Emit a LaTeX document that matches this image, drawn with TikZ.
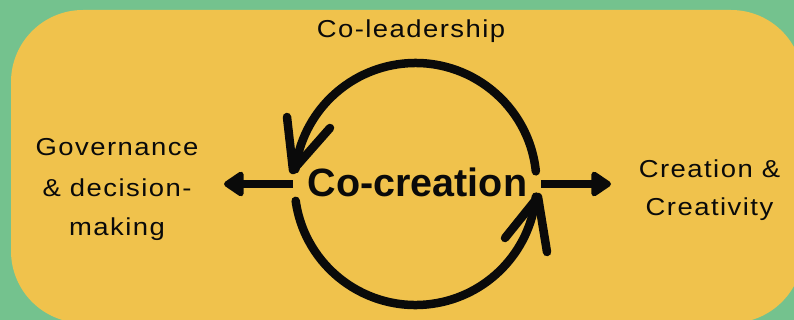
\documentclass[tikz,border=0pt]{standalone}
\usepackage{fontspec}
\setmainfont{Liberation Sans}
\newfontfamily\labelfont[LetterSpace=6,FakeStretch=1.12]{Liberation Sans}
\usetikzlibrary{arrows.meta}
\definecolor{bggreen}{HTML}{74C28E}
\definecolor{cardyellow}{HTML}{F0C24C}
\definecolor{ink}{HTML}{0A0A0A}
\begin{document}
\begin{tikzpicture}[x=1pt,y=-1pt,
  lbl/.style={inner sep=0pt, text=ink, font=\labelfont\fontsize{24.5}{40}\selectfont},
  ring/.style={draw=ink, line width=8.5pt, line cap=round, line join=round},
  bigarrow/.style={draw=ink, line width=8.5pt, -{Triangle[length=22pt,width=28pt,round]}}
]
\clip (0,0) rectangle (794,320);
\fill[bggreen] (0,0) rectangle (794,320);
\fill[cardyellow, rounded corners=72pt] (11,10) rectangle (803,323);

\coordinate (C) at (415.5,184);

% texts
\node[lbl, anchor=base] (lead) at (411,38) {Co-leadership};
\node[lbl, align=center, anchor=base] (gov) at (117,236) {Governance\\\& decision-\\making};
\node[lbl, align=center, anchor=base, font=\labelfont\fontsize{24.5}{38}\selectfont] (cre) at (709.5,215) {Creation \&\\Creativity};
\node[inner sep=0pt, text=ink, font=\fontsize{39.5}{39.5}\selectfont\bfseries, anchor=base] (cc) at (417.5,197) {Co-creation};

% cycle arcs
\draw[ring] (C) ++(-6:121) arc[start angle=-6, end angle=-173, radius=121];
\draw[ring] (C) ++(-188:121) arc[start angle=-188, end angle=-354, radius=121];
\coordinate (t1) at (293,170);
\coordinate (t2) at (538,197);
\draw[ring] (287,117) -- (t1) -- (330,128);
\draw[ring] (505,238) -- (t2) -- (547,252);

% side arrows
\coordinate (l0) at (293,184);
\coordinate (l1) at (224,184);
\coordinate (r0) at (541,184);
\coordinate (r1) at (611,184);
\draw[bigarrow] (l0) -- (l1);
\draw[bigarrow] (r0) -- (r1);
\end{tikzpicture}
\end{document}
